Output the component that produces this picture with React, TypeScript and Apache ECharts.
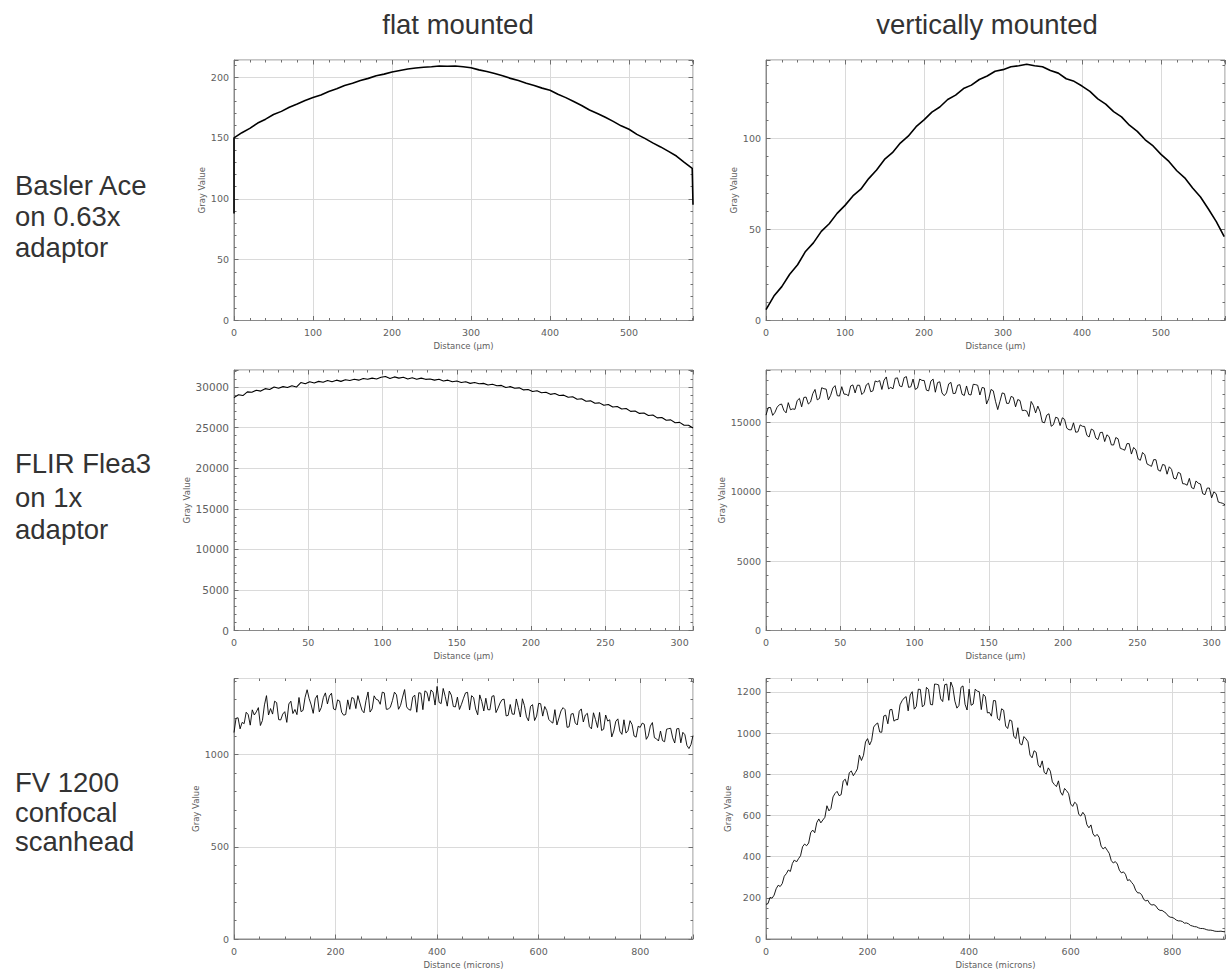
import React, { useEffect, useRef } from "react";
import * as echarts from "echarts";

const columnTitles = ["flat mounted", "vertically mounted"];
const rowLabels = [
  ["Basler Ace", "on 0.63x", "adaptor"],
  ["FLIR Flea3", "on 1x", "adaptor"],
  ["FV 1200", "confocal", "scanhead"],
];
const xNameMicron = "Distance (μm)";
const xNameMicrons = "Distance (microns)";
const yName = "Gray Value";

// Basler Ace, flat mounted: samples every 10 µm
const basFlatStep = 10;
const basFlatY = [
  150, 154.3, 157.8, 162.2, 165.4, 169.2, 171.8, 175.2, 177.9, 180.7,
  183.1, 185.3, 188.2, 190.4, 193.1, 194.9, 197.2, 198.9, 201.1, 202.4,
  204.1, 205.4, 206.6, 207.4, 208.1, 208.4, 209.1, 208.9, 209.1, 208.4,
  207.6, 205.9, 204.6, 202.9, 201.1, 198.9, 197.1, 194.9, 193.1, 190.9,
  189.1, 185.9, 183.1, 179.9, 176.6, 172.9, 170.1, 166.9, 163.6, 159.9,
  157.1, 152.9, 149.6, 145.9, 142.6, 138.9, 135.1, 129.9, 125,
];
const basFlatEdgeStart = [0, 88];
const basFlatEdgeEnd = [581, 95];

// Basler Ace, vertically mounted: samples every 10 µm
const basVertStep = 10;
const basVertY = [
  6, 13.4, 18.6, 25.4, 30.6, 37.9, 42.6, 48.9, 53.1, 58.8,
  63.2, 68.4, 72.1, 77.9, 82.6, 88.4, 92.1, 97.4, 101.2, 106.4,
  110.1, 114.4, 117.2, 121.3, 123.7, 127.3, 129.2, 132.3, 134.2, 136.8,
  137.7, 139.3, 139.8, 140.7, 139.8, 139.3, 137.2, 135.8, 132.7, 131.3,
  128.7, 125.8, 121.7, 118.8, 114.7, 111.8, 107.2, 103.8, 99.2, 95.8,
  91.2, 87.3, 82.2, 78.3, 72.7, 67.8, 61.2, 54.3, 46,
];

// FLIR Flea3, flat mounted: samples every 3 µm
const flirFlatStep = 3;
const flirFlatY = [
  28700, 29050, 28950, 29400, 29350, 29600, 29500, 29800, 29700, 30000,
  29850, 30050, 29950, 30150, 30000, 30550, 30400, 30650, 30500, 30700,
  30600, 30800, 30650, 30850, 30700, 30900, 30800, 30950, 30850, 31050,
  30950, 31100, 31000, 31200, 31300, 31050, 31250, 31100, 31200, 31000,
  31150, 30950, 31100, 30950, 31000, 30850, 30950, 30750, 30850, 30650,
  30750, 30550, 30650, 30450, 30550, 30400, 30450, 30250, 30350, 30150,
  30200, 29950, 30050, 29850, 29900, 29650, 29700, 29450, 29550, 29300,
  29350, 29100, 29200, 28950, 29000, 28750, 28800, 28500, 28550, 28250,
  28300, 28000, 28050, 27750, 27850, 27550, 27600, 27300, 27350, 27000,
  27050, 26750, 26800, 26500, 26550, 26200, 26250, 25900, 25950, 25600,
  25650, 25300, 25300, 24950,
];

// FLIR Flea3, vertically mounted: samples every 3 µm, plus the half-step samples
const flirVertStep = 3;
const flirVertY = [
  15500, 16050, 15700, 16250, 15850, 16400, 15950, 16550, 16100, 16800,
  16450, 17350, 16700, 17400, 16600, 17450, 16900, 17550, 17000, 17600,
  17100, 17650, 17150, 17800, 17250, 17900, 17350, 18250, 17500, 18150,
  17600, 18200, 17500, 18100, 17450, 18000, 17300, 17950, 17150, 17900,
  16900, 17750, 17050, 17650, 17000, 17600, 16950, 17700, 16950, 17450,
  16700, 17250, 15900, 17100, 16350, 16850, 16100, 16550, 15850, 15400,
  16200, 16150, 15000, 15500, 14700, 15350, 14750, 15200, 14450, 14950,
  14300, 14700, 14050, 14500, 13850, 14250, 13600, 13950, 13350, 13800,
  13050, 13450, 12700, 13000, 12250, 12650, 11900, 12300, 11550, 11950,
  11250, 11600, 10900, 11300, 10550, 10950, 10200, 10600, 9850, 10250,
  9550, 9850, 9200, 9050,
];
const flirVertHalfY = [
  16045, 15485, 16075, 16300, 15665, 15890, 15920, 16705, 16775, 16300,
  17050, 16600, 17475, 17375, 16925, 17625, 16875, 17015, 16895, 17675,
  17655, 16985, 17675, 17185, 17960, 17990, 18020, 17390, 17395, 18185,
  17545, 18275, 17540, 17350, 18100, 17995, 17245, 18095, 17845, 17095,
  17100, 17860, 17075, 17695, 16915, 16990, 17720, 17650, 17495, 16300,
  17350, 16500, 16500, 17050, 16350, 16775, 16625, 15825, 15800, 16485,
  15660, 15750, 14950, 15600, 14815, 15290, 15310, 14560, 14440, 14270,
  14800, 14685, 13925, 14410, 13740, 14265, 14085, 13360, 13890, 13115,
  12975, 13450, 13175, 12350, 12815, 11990, 11815, 12290, 11465, 11900,
  11785, 10960, 11385, 10570, 10455, 10285, 10765, 10545, 9775, 10255,
  9980, 9245, 9150,
];

// FV 1200, flat mounted: samples every 8 microns, plus the half-step samples
const fvFlatStep = 8;
const fvFlatY = [
  1120, 1200, 1175, 1230, 1160, 1215, 1255, 1185, 1320, 1250,
  1290, 1190, 1220, 1175, 1290, 1245, 1310, 1240, 1352, 1270,
  1303, 1232, 1310, 1275, 1333, 1243, 1291, 1214, 1297, 1310,
  1250, 1280, 1227, 1340, 1248, 1300, 1273, 1335, 1247, 1293,
  1325, 1267, 1353, 1245, 1312, 1230, 1333, 1346, 1290, 1338,
  1370, 1277, 1316, 1345, 1261, 1312, 1273, 1335, 1242, 1309,
  1216, 1288, 1306, 1243, 1320, 1252, 1298, 1210, 1272, 1219,
  1256, 1303, 1205, 1262, 1185, 1278, 1209, 1239, 1179, 1244,
  1199, 1255, 1148, 1220, 1172, 1235, 1177, 1224, 1140, 1190,
  1229, 1138, 1182, 1096, 1181, 1127, 1189, 1131, 1163, 1095,
  1148, 1165, 1102, 1174, 1086, 1128, 1070, 1141, 1091, 1140,
  1064, 1108, 1033, 1103,
];
const fvFlatHalfY = [
  1197, 1140, 1168, 1217, 1243, 1232, 1158, 1270, 1215, 1220,
  1282, 1188, 1233, 1275, 1223, 1217, 1233, 1311, 1304, 1224,
  1322, 1256, 1335, 1319, 1248, 1297, 1230, 1218, 1246, 1305,
  1320, 1241, 1293, 1231, 1319, 1296, 1339, 1246, 1258, 1339,
  1246, 1312, 1259, 1241, 1323, 1336, 1244, 1338, 1351, 1269,
  1283, 1359, 1263, 1323, 1259, 1245, 1306, 1338, 1320, 1247,
  1324, 1237, 1244, 1316, 1228, 1280, 1301, 1213, 1220, 1302,
  1204, 1266, 1183, 1271, 1209, 1276, 1261, 1191, 1171, 1161,
  1237, 1244, 1151, 1223, 1161, 1248, 1215, 1152, 1227, 1147,
  1131, 1215, 1189, 1128, 1194, 1110, 1117, 1184, 1101, 1154,
  1171, 1083, 1155, 1092, 1074, 1076, 1138, 1143, 1063, 1142,
  1121, 1050, 1055,
];

// FV 1200, vertically mounted: samples every 8 microns, plus the half-step samples
const fvVertStep = 8;
const fvVertY = [
  168, 202, 213, 261, 269, 317, 328, 384, 390, 448,
  453, 516, 516, 583, 578, 647, 634, 707, 696, 767,
  746, 816, 808, 893, 892, 973, 964, 1042, 1005, 1083,
  1045, 1115, 1065, 1137, 1170, 1108, 1201, 1129, 1212, 1137,
  1212, 1137, 1237, 1166, 1235, 1159, 1222, 1121, 1222, 1140,
  1213, 1141, 1204, 1114, 1177, 1100, 1158, 1071, 1118, 1034,
  1064, 985, 1026, 942, 972, 893, 914, 845, 865, 801,
  815, 750, 768, 698, 720, 656, 664, 605, 615, 555,
  554, 498, 494, 437, 431, 381, 376, 334, 326, 284,
  275, 237, 224, 192, 188, 165, 160, 139, 132, 112,
  105, 92, 88, 77, 74, 63, 59, 51, 49, 43,
  41, 37, 38, 35,
];
const fvVertHalfY = [
  172, 198, 244, 255, 305, 335, 367, 374, 404, 461,
  466, 529, 565, 564, 591, 622, 690, 717, 701, 776,
  807, 793, 826, 867, 957, 942, 1029, 1049, 1004, 1087,
  1113, 1058, 1066, 1157, 1177, 1185, 1116, 1213, 1127, 1222,
  1139, 1238, 1234, 1153, 1238, 1248, 1155, 1134, 1229, 1112,
  1135, 1213, 1201, 1188, 1098, 1082, 1157, 1062, 1111, 1022,
  1059, 973, 949, 983, 958, 880, 907, 833, 809, 831,
  763, 740, 714, 731, 706, 644, 655, 597, 601, 540,
  511, 508, 451, 446, 416, 369, 364, 321, 314, 288,
  263, 224, 214, 185, 171, 167, 145, 139, 125, 106,
  100, 88, 85, 78, 66, 60, 54, 51, 45, 43,
  38, 37, 36,
];

// Axis ranges and tick steps
const xMaxes = [581, 581, 309, 309, 904, 904];
const yMaxes = [214, 143, 32100, 18750, 1413, 1265];
const xIntervals = [100, 100, 50, 50, 200, 200];
const yIntervals = [50, 50, 5000, 5000, 500, 200];

// samples at i*step, with optional half-step samples at (i+0.5)*step
const sampled = (ys: number[], step: number, half: number[] = []) => {
  const out: number[][] = [];
  ys.forEach((v, i) => {
    out.push([i * step, v]);
    if (i < half.length) out.push([(i + 0.5) * step, half[i]]);
  });
  return out;
};

const seriesData = [
  [basFlatEdgeStart, ...sampled(basFlatY, basFlatStep), basFlatEdgeEnd],
  sampled(basVertY, basVertStep),
  sampled(flirFlatY, flirFlatStep),
  sampled(flirVertY, flirVertStep, flirVertHalfY),
  sampled(fvFlatY, fvFlatStep, fvFlatHalfY),
  sampled(fvVertY, fvVertStep, fvVertHalfY),
];

// Layout (pixels)
const gridLefts = [234, 766];
const gridTops = [60, 370, 678.5];
const gridW = 459;
const gridH = 260.5;
const xMinorSplits = [5, 5, 5, 5, 4, 4];
const yMinorSplits = [5, 5, 5, 5, 5, 4];
const yNameGaps = [27, 26, 40, 38, 34, 33];
const yLabelSizes = [9.5, 9.5, 10.5, 9.5, 9.5, 9.5];
const lineWidths = [1.6, 1.6, 1.1, 0.9, 0.9, 0.9];
const xNames = [xNameMicron, xNameMicron, xNameMicron, xNameMicron, xNameMicrons, xNameMicrons];

const TICK_COLOR = "#6f6f6f";
const FRAME_COLOR = "#8a8a8a";
const GRIDLINE_COLOR = "#dadada";
const LABEL_COLOR = "#606060";
const SMALL_FONT = "DejaVu Sans";
const BIG_FONT = "Liberation Sans";

function buildOption() {
  const grid: any[] = [];
  const xAxis: any[] = [];
  const yAxis: any[] = [];
  const series: any[] = [];
  const plain = (v: number) => String(v);
  for (let i = 0; i < 6; i++) {
    const col = i % 2;
    const row = Math.floor(i / 2);
    grid.push({
      left: gridLefts[col],
      top: gridTops[row],
      width: gridW,
      height: gridH,
      show: true,
      borderColor: FRAME_COLOR,
      borderWidth: 1,
      backgroundColor: "#ffffff",
      containLabel: false,
    });
    const tick = { show: true, inside: true, length: 4.5, lineStyle: { color: TICK_COLOR, width: 1 } };
    const minorX = { show: true, splitNumber: xMinorSplits[i], length: 2.5, lineStyle: { color: TICK_COLOR, width: 1 } };
    const minorY = { show: true, splitNumber: yMinorSplits[i], length: 2.5, lineStyle: { color: TICK_COLOR, width: 1 } };
    const labelStyle = { color: LABEL_COLOR, fontFamily: SMALL_FONT };
    xAxis.push({
      type: "value",
      gridIndex: i,
      position: "bottom",
      min: 0,
      max: xMaxes[i],
      interval: xIntervals[i],
      axisLine: { show: true, onZero: false, lineStyle: { color: FRAME_COLOR } },
      axisTick: tick,
      minorTick: minorX,
      axisLabel: { show: true, showMaxLabel: false, margin: 7, fontSize: 9.5, formatter: plain, ...labelStyle },
      splitLine: { show: true, lineStyle: { color: GRIDLINE_COLOR, width: 1 } },
      name: xNames[i],
      nameLocation: "middle",
      nameGap: 21,
      nameTextStyle: { fontSize: 8.5, ...labelStyle },
    });
    xAxis.push({
      type: "value",
      gridIndex: i,
      position: "top",
      min: 0,
      max: xMaxes[i],
      interval: xIntervals[i],
      axisLine: { show: false, onZero: false },
      axisTick: tick,
      minorTick: minorX,
      axisLabel: { show: false },
      splitLine: { show: false },
    });
    yAxis.push({
      type: "value",
      gridIndex: i,
      position: "left",
      min: 0,
      max: yMaxes[i],
      interval: yIntervals[i],
      axisLine: { show: true, onZero: false, lineStyle: { color: FRAME_COLOR } },
      axisTick: tick,
      minorTick: minorY,
      axisLabel: { show: true, showMaxLabel: false, margin: 5, fontSize: yLabelSizes[i], formatter: plain, ...labelStyle },
      splitLine: { show: true, lineStyle: { color: GRIDLINE_COLOR, width: 1 } },
      name: yName,
      nameLocation: "middle",
      nameRotate: 90,
      nameGap: yNameGaps[i],
      nameTextStyle: { fontSize: 8.5, ...labelStyle },
    });
    yAxis.push({
      type: "value",
      gridIndex: i,
      position: "right",
      min: 0,
      max: yMaxes[i],
      interval: yIntervals[i],
      axisLine: { show: false, onZero: false },
      axisTick: tick,
      minorTick: minorY,
      axisLabel: { show: false },
      splitLine: { show: false },
    });
    series.push({
      type: "line",
      xAxisIndex: 2 * i,
      yAxisIndex: 2 * i,
      data: seriesData[i],
      showSymbol: false,
      symbol: "none",
      silent: true,
      clip: true,
      lineStyle: { color: "#000000", width: lineWidths[i] },
    });
  }

  const textStyle = (text: string) => ({
    text,
    font: `27.5px "${BIG_FONT}", Arial, sans-serif`,
    fill: "#333333",
    textAlign: "left",
    align: "left",
    textVerticalAlign: "middle",
    verticalAlign: "middle",
  });

  const graphic: any[] = [];
  const titleCenters = [458, 987];
  columnTitles.forEach((t, c) => {
    graphic.push({
      type: "text",
      x: titleCenters[c],
      y: 24.5,
      style: { ...textStyle(t), textAlign: "center", align: "center" },
    });
  });
  const rowBaselines = [
    [195, 226, 257],
    [473, 507, 539],
    [792, 822, 851],
  ];
  rowLabels.forEach((lines, r) => {
    lines.forEach((line, k) => {
      graphic.push({
        type: "text",
        x: 15,
        y: rowBaselines[r][k] - 9.5,
        style: textStyle(line),
      });
    });
  });

  return {
    animation: false,
    backgroundColor: "#ffffff",
    grid,
    xAxis,
    yAxis,
    series,
    graphic,
  };
}

export default function App() {
  const ref = useRef<HTMLDivElement>(null);
  useEffect(() => {
    if (!ref.current) return;
    const chart = echarts.init(ref.current, undefined, { renderer: "svg" });
    chart.setOption(buildOption() as any);
    return () => chart.dispose();
  }, []);
  return (
    <div
      ref={ref}
      style={{ position: "fixed", left: 0, top: 0, width: 1232, height: 973, background: "#fff" }}
    />
  );
}
